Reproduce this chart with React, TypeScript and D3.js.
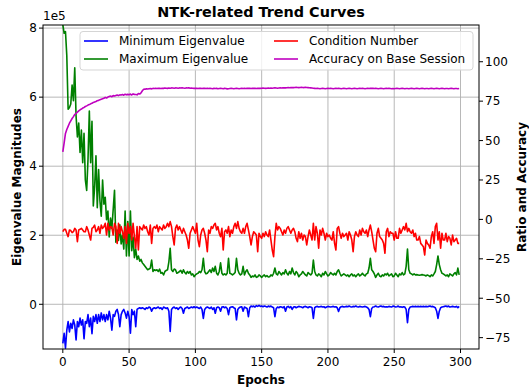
import * as d3 from "d3";

// epoch index of every sample
const epochs = d3.range(300);

// minimum eigenvalue, in units of 1e5
const minEig = [
  -1.13, -0.84, -1.27, -0.75, -0.5, -0.8, -0.55, -0.7, -0.45, -0.6,
  -1.03, -0.5, -0.65, -0.4, -0.6, -0.45, -1.0, -0.5, -0.55, -0.3,
  -0.65, -0.4, -0.85, -0.35, -0.5, -0.3, -0.55, -0.3, -0.5, -0.25,
  -0.45, -0.3, -0.5, -0.3, -0.45, -0.2, -0.4, -0.75, -0.3, -0.35,
  -0.2, -0.15, -0.3, -0.65, -0.3, -0.2, -0.15, -0.25, -0.4, -0.2,
  -0.36, -0.84, -0.15, -0.3, -0.2, -0.65, -0.15, -0.12, -0.1, -0.12,
  -0.1, -0.12, -0.15, -0.1, -0.12, -0.08, -0.1, -0.2, -0.12, -0.1,
  -0.12, -0.1, -0.08, -0.12, -0.1, -0.15, -0.08, -0.1, -0.12, -0.1,
  -0.2, -0.79, -0.15, -0.1, -0.08, -0.12, -0.1, -0.15, -0.1, -0.08,
  -0.12, -0.26, -0.12, -0.1, -0.08, -0.12, -0.1, -0.08, -0.1, -0.07,
  -0.1, -0.08, -0.1, -0.12, -0.08, -0.15, -0.41, -0.15, -0.1, -0.08,
  -0.1, -0.12, -0.08, -0.15, -0.1, -0.26, -0.1, -0.08, -0.1, -0.2,
  -0.08, -0.07, -0.1, -0.08, -0.12, -0.3, -0.1, -0.08, -0.07, -0.1,
  -0.12, -0.45, -0.15, -0.1, -0.08, -0.07, -0.2, -0.08, -0.1, -0.12,
  -0.36, -0.1, -0.05, -0.07, -0.05, -0.08, -0.04, -0.06, -0.03, -0.06,
  -0.05, -0.07, -0.05, -0.06, -0.08, -0.05, -0.07, -0.05, -0.08, -0.1,
  -0.36, -0.12, -0.08, -0.1, -0.07, -0.08, -0.1, -0.07, -0.2, -0.08,
  -0.06, -0.1, -0.07, -0.15, -0.08, -0.07, -0.1, -0.08, -0.06, -0.07,
  -0.08, -0.1, -0.07, -0.06, -0.08, -0.1, -0.07, -0.08, -0.1, -0.41,
  -0.1, -0.07, -0.06, -0.08, -0.07, -0.06, -0.08, -0.07, -0.1, -0.08,
  -0.06, -0.07, -0.08, -0.07, -0.06, -0.08, -0.07, -0.1, -0.21, -0.1,
  -0.07, -0.06, -0.08, -0.07, -0.06, -0.07, -0.05, -0.07, -0.08, -0.06,
  -0.07, -0.05, -0.07, -0.08, -0.06, -0.07, -0.08, -0.07, -0.06, -0.08,
  -0.1, -0.15, -0.36, -0.12, -0.08, -0.07, -0.05, -0.07, -0.08, -0.06,
  -0.05, -0.07, -0.06, -0.08, -0.07, -0.08, -0.06, -0.07, -0.08, -0.05,
  -0.06, -0.08, -0.07, -0.05, -0.08, -0.07, -0.09, -0.07, -0.08, -0.15,
  -0.53, -0.15, -0.08, -0.07, -0.06, -0.07, -0.06, -0.07, -0.06, -0.07,
  -0.06, -0.07, -0.06, -0.07, -0.06, -0.07, -0.06, -0.05, -0.07, -0.06,
  -0.08, -0.1, -0.2, -0.41, -0.2, -0.1, -0.08, -0.07, -0.06, -0.05,
  -0.07, -0.05, -0.08, -0.07, -0.06, -0.07, -0.08, -0.06, -0.1, -0.06,
];

// maximum eigenvalue, in units of 1e5
const maxEig = [
  8.1, 7.85, 7.9, 7.2, 5.65, 5.7, 5.8, 6.35, 5.9, 6.85,
  5.45, 4.85, 5.25, 4.4, 5.05, 4.1, 4.95, 3.6, 3.3, 4.2,
  5.6, 4.1, 5.3, 2.85, 3.4, 4.3, 2.8, 3.9, 3.0, 2.55,
  3.6, 2.9, 3.1, 2.45, 2.7, 1.95, 2.5, 2.2, 2.75, 3.3,
  1.8, 2.15, 1.85, 2.3, 1.75, 2.0, 1.6, 2.7, 1.4, 2.4,
  1.4, 2.7, 1.55, 1.95, 1.35, 1.6, 1.3, 1.4, 1.25, 1.3,
  1.2, 1.15, 1.1, 1.05, 1.0, 1.02, 1.05, 1.28, 0.95, 1.0,
  0.98, 1.0, 0.95, 1.02, 0.9, 0.92, 0.85, 0.95, 0.98, 1.0,
  1.23, 1.62, 1.0, 0.95, 1.02, 1.0, 0.9, 0.92, 0.95, 0.98,
  0.9, 1.0, 0.92, 0.88, 0.95, 0.9, 0.95, 0.85, 0.88, 0.8,
  0.85, 0.88, 0.9, 0.95, 0.92, 1.0, 1.33, 0.95, 0.88, 0.9,
  0.95, 1.0, 0.92, 1.05, 0.95, 1.1, 0.9, 0.85, 0.95, 1.2,
  0.9, 0.85, 0.88, 0.85, 0.9, 1.33, 0.9, 0.88, 0.85, 0.88,
  0.92, 1.33, 1.0, 0.9, 0.85, 0.88, 1.1, 0.85, 0.95, 1.0,
  0.9, 0.85, 0.78, 0.82, 0.8, 0.85, 0.78, 0.8, 0.85, 0.82,
  0.78, 0.82, 0.85, 0.8, 0.83, 0.79, 0.8, 0.85, 0.82, 0.9,
  1.05, 0.88, 0.85, 0.95, 0.9, 0.85, 0.92, 0.88, 1.0, 0.9,
  0.85, 0.95, 0.88, 1.05, 0.92, 0.85, 0.95, 0.9, 0.8, 0.85,
  0.88, 0.95, 0.9, 0.85, 0.82, 0.92, 0.88, 0.85, 0.9, 1.28,
  0.95, 0.85, 0.82, 0.88, 0.85, 0.8, 0.9, 0.85, 0.95, 0.88,
  0.82, 0.85, 0.92, 0.88, 0.85, 0.9, 0.85, 0.95, 1.0, 0.9,
  0.82, 0.85, 0.88, 0.85, 0.82, 0.85, 0.8, 0.85, 0.88, 0.82,
  0.85, 0.8, 0.85, 0.88, 0.82, 0.85, 0.9, 0.85, 0.82, 0.88,
  0.9, 1.05, 1.33, 1.0, 0.95, 0.88, 0.78, 0.85, 0.9, 0.82,
  0.8, 0.85, 0.82, 0.88, 0.85, 0.9, 0.82, 0.85, 0.88, 0.8,
  0.82, 0.9, 0.85, 0.8, 0.88, 0.85, 0.92, 0.85, 0.88, 1.1,
  1.6, 1.0, 0.9, 0.88, 0.85, 0.88, 0.85, 0.86, 0.85, 0.84,
  0.85, 0.86, 0.85, 0.84, 0.82, 0.85, 0.83, 0.8, 0.85, 0.82,
  0.88, 0.95, 1.15, 1.4, 1.15, 1.0, 0.9, 0.88, 0.85, 0.82,
  0.85, 0.8, 0.88, 0.85, 0.82, 0.88, 0.92, 0.85, 1.05, 0.85,
];

// condition number (right axis)
const condNum = [
  -7.8, -6.3, -6.3, -8.8, -10.9, -6.7, -7.1, -8.4, -7.8, -5.7,
  -6.7, -14.1, -6.7, -6.3, -5.7, -6.7, -7.8, -7.8, -4.6, -6.7,
  -9.9, -13.1, -5.7, -5.0, -3.6, -7.8, -6.7, -4.6, -8.8, -3.6,
  -5.7, -4.6, -2.5, -9.9, -2.5, -6.7, -4.6, -5.0, -9.9, -2.5,
  -4.6, -15.2, -2.5, -8.8, -4.6, -7.8, -12.0, -4.6, -15.2, -2.5,
  -8.8, -4.6, -13.1, -2.5, -10.9, -18.3, -4.6, -19.4, -4.6, -5.7,
  -6.7, -3.6, -5.7, -4.6, -7.8, -9.9, -3.6, -15.2, -5.7, -4.6,
  -5.7, -3.6, -7.8, -4.6, -5.7, -6.7, -3.6, -5.7, -4.6, -2.5,
  -4.6, -1.4, -4.6, -10.9, -16.2, -5.7, -3.6, -6.7, -4.6, -6.7,
  -8.8, -5.7, -7.8, -9.9, -13.1, -18.3, -8.8, -6.7, -4.6, -6.7,
  -8.8, -2.5, -13.1, -17.3, -9.9, -6.7, -5.7, -8.8, -13.1, -20.5,
  -6.7, -8.8, -4.6, -5.7, -3.6, -2.5, -6.7, -4.6, -8.8, -10.9,
  -5.7, -19.4, -7.8, -6.7, -8.8, -4.6, -10.9, -6.7, -8.8, -4.6,
  -2.5, -5.7, -1.4, -5.7, -7.8, -8.8, -5.7, -8.8, -4.6, -2.5,
  -6.7, -10.9, -16.2, -10.9, -7.8, -8.8, -9.9, -20.5, -8.8, -10.9,
  -12.0, -8.8, -10.9, -7.8, -9.9, -10.9, -6.7, -13.1, -19.4, -23.6,
  -10.9, -2.5, -6.7, -4.6, -5.7, -7.8, -9.9, -6.7, -8.8, -5.7,
  -4.6, -6.7, -8.8, -6.7, -5.7, -7.8, -12.0, -14.1, -7.8, -12.0,
  -8.8, -13.1, -9.9, -10.9, -16.2, -10.9, -6.7, -9.9, -13.1, -2.5,
  -13.1, -4.6, -8.8, -18.3, -6.7, -9.9, -5.7, -8.8, -13.1, -8.8,
  -10.9, -9.9, -12.0, -13.1, -7.8, -15.2, -19.4, -5.7, -4.6, -8.8,
  -12.0, -8.8, -10.9, -9.9, -8.8, -13.1, -7.8, -9.9, -13.1, -20.5,
  -10.9, -7.8, -9.9, -10.9, -6.7, -9.9, -5.7, -7.8, -8.8, -6.7,
  -10.9, -6.7, -3.6, -7.8, -13.1, -18.3, -20.5, -8.8, -5.7, -10.9,
  -12.0, -13.1, -15.2, -21.5, -7.8, -5.7, -10.9, -7.8, -8.8, -8.8,
  -13.1, -7.8, -12.0, -12.0, -5.7, -8.8, -6.7, -4.6, -6.7, -2.5,
  -7.8, -5.7, -7.8, -8.8, -6.7, -10.9, -8.8, -13.1, -13.1, -10.9,
  -15.2, -16.2, -17.3, -22.6, -13.1, -15.2, -16.2, -18.3, -10.9, -7.8,
  -15.2, -4.6, -2.5, -13.1, -7.8, -18.3, -8.8, -13.1, -13.1, -8.8,
  -14.1, -10.9, -12.0, -16.2, -9.9, -14.1, -13.1, -12.0, -15.2, -15.2,
];

// accuracy on base session (right axis)
const accuracy = [
  42.9, 48.5, 54.5, 57.0, 59.0, 61.0, 62.5, 64.0, 65.2, 66.5,
  67.3, 68.0, 68.8, 69.5, 70.0, 70.6, 71.0, 71.6, 72.0, 72.5,
  72.8, 73.3, 73.6, 74.2, 74.5, 74.8, 75.3, 75.5, 75.9, 76.2,
  76.5, 76.8, 77.4, 77.0, 77.6, 77.9, 78.2, 77.8, 78.5, 78.3,
  78.6, 78.9, 78.5, 79.0, 78.9, 79.2, 78.8, 79.4, 79.0, 79.3,
  79.1, 79.5, 78.9, 79.6, 79.3, 79.2, 79.0, 79.8, 79.5, 80.2,
  81.6, 82.5, 82.6, 82.8, 82.7, 82.9, 83.0, 82.8, 83.1, 83.0,
  83.1, 83.0, 83.2, 83.1, 83.0, 83.2, 83.1, 83.3, 83.2, 83.1,
  83.3, 83.2, 83.4, 83.3, 83.2, 83.4, 83.3, 83.2, 83.4, 83.3,
  83.5, 83.3, 83.2, 83.4, 83.3, 83.5, 83.2, 83.3, 83.2, 83.1,
  83.2, 83.1, 83.0, 83.2, 83.1, 83.0, 83.1, 83.2, 83.0, 83.1,
  83.0, 83.1, 83.0, 82.9, 83.1, 83.0, 83.1, 82.9, 83.0, 83.1,
  83.0, 82.9, 83.1, 83.0, 82.8, 82.9, 83.0, 83.1, 83.0, 82.9,
  83.0, 83.1, 83.0, 82.9, 83.0, 83.1, 83.0, 83.1, 83.0, 83.1,
  83.2, 83.1, 83.0, 83.1, 83.2, 83.1, 83.0, 83.1, 83.2, 83.1,
  83.2, 83.3, 83.2, 83.1, 83.2, 83.3, 83.2, 83.3, 83.2, 83.3,
  83.4, 83.3, 83.2, 83.3, 83.4, 83.3, 83.4, 83.5, 83.4, 83.5,
  83.6, 83.5, 83.6, 83.7, 83.6, 83.7, 83.8, 83.7, 83.6, 83.7,
  83.8, 83.7, 83.6, 83.8, 83.7, 83.6, 83.5, 83.4, 83.3, 83.2,
  83.1, 83.0, 83.1, 83.0, 82.9, 83.0, 83.1, 83.0, 82.9, 83.0,
  83.1, 83.0, 83.1, 83.0, 82.9, 83.0, 83.1, 83.0, 83.1, 83.0,
  82.9, 83.0, 83.1, 83.0, 82.9, 83.0, 83.1, 83.0, 82.9, 83.0,
  83.1, 83.0, 82.9, 83.0, 83.1, 83.0, 83.1, 83.0, 82.9, 83.0,
  83.1, 83.0, 83.1, 83.2, 83.1, 83.0, 83.1, 83.0, 82.9, 83.0,
  83.1, 83.0, 82.9, 83.0, 83.1, 83.0, 83.1, 83.0, 82.9, 83.0,
  82.9, 83.0, 83.1, 83.0, 82.9, 83.0, 83.1, 83.0, 82.9, 83.0,
  83.0, 82.9, 83.0, 83.1, 83.0, 82.9, 83.0, 83.1, 83.0, 82.9,
  83.0, 83.1, 83.0, 82.9, 83.0, 83.0, 82.9, 83.0, 83.1, 83.0,
  82.9, 83.0, 83.1, 83.0, 82.9, 83.0, 83.1, 83.0, 82.9, 83.0,
  83.0, 82.9, 83.0, 83.1, 83.0, 82.9, 83.0, 83.0, 82.9, 83.0,
];

const xTicks = [0, 50, 100, 150, 200, 250, 300];
const leftTicks = [0, 2, 4, 6, 8];
const rightTicks = [-75, -50, -25, 0, 25, 50, 75, 100];

const legendItems = [
  { label: "Minimum Eigenvalue", color: "#0000ff" },
  { label: "Maximum Eigenvalue", color: "#008000" },
  { label: "Condition Number", color: "#ff0000" },
  { label: "Accuracy on Base Session", color: "#bf00bf" },
];

const W = 529;
const H = 387;
const plot = { left: 43, right: 479, top: 25, bottom: 349 };
const FONT = "DejaVu Sans, Liberation Sans, sans-serif";
const FS = 12;

export default function App() {
  const x = d3.scaleLinear().domain([-14.95, 313.95]).range([plot.left, plot.right]);
  const yL = d3.scaleLinear().domain([-1.295, 8.09]).range([plot.bottom, plot.top]);
  const yR = d3.scaleLinear().domain([-82.2, 123.3]).range([plot.bottom, plot.top]);

  const lineL = (vals: number[]) =>
    d3.line<number>().x((_, i) => x(epochs[i])).y(v => yL(v))(vals) ?? "";
  const lineR = (vals: number[]) =>
    d3.line<number>().x((_, i) => x(epochs[i])).y(v => yR(v))(vals) ?? "";

  const fmt = (v: number) => (v < 0 ? "\u2212" + Math.abs(v) : String(v));
  const midY = (plot.top + plot.bottom) / 2;
  const midX = (plot.left + plot.right) / 2;

  return (
    <svg
      width={W}
      height={H}
      style={{ position: "absolute", left: 0, top: 0, background: "#fff" }}
      fontFamily={FONT}
    >
      <defs>
        <clipPath id="plotClip">
          <rect x={plot.left} y={plot.top} width={plot.right - plot.left} height={plot.bottom - plot.top} />
        </clipPath>
      </defs>

      {/* grid */}
      <g stroke="#b0b0b0" strokeWidth={0.9}>
        {xTicks.map(t => (
          <line key={"gx" + t} x1={x(t)} x2={x(t)} y1={plot.top} y2={plot.bottom} />
        ))}
        {leftTicks.map(t => (
          <line key={"gy" + t} x1={plot.left} x2={plot.right} y1={yL(t)} y2={yL(t)} />
        ))}
      </g>

      {/* series */}
      <g clipPath="url(#plotClip)" fill="none" strokeWidth={1.6} strokeLinejoin="round">
        <path d={lineL(minEig)} stroke="#0000ff" />
        <path d={lineL(maxEig)} stroke="#008000" />
        <path d={lineR(condNum)} stroke="#ff0000" />
        <path d={lineR(accuracy)} stroke="#bf00bf" />
      </g>

      {/* frame */}
      <rect
        x={plot.left}
        y={plot.top}
        width={plot.right - plot.left}
        height={plot.bottom - plot.top}
        fill="none"
        stroke="#000"
        strokeWidth={1}
      />

      {/* x axis */}
      <g fontSize={FS} fill="#000">
        {xTicks.map(t => (
          <g key={"xt" + t}>
            <line x1={x(t)} x2={x(t)} y1={plot.bottom} y2={plot.bottom + 4} stroke="#000" />
            <text x={x(t)} y={plot.bottom + 17} textAnchor="middle">{t}</text>
          </g>
        ))}
      </g>

      {/* left axis */}
      <g fontSize={FS} fill="#000">
        {leftTicks.map(t => (
          <g key={"yl" + t}>
            <line x1={plot.left - 4} x2={plot.left} y1={yL(t)} y2={yL(t)} stroke="#000" />
            <text x={plot.left - 6} y={yL(t) + 4.3} textAnchor="end">{t}</text>
          </g>
        ))}
        <text x={plot.left} y={20}>1e5</text>
      </g>

      {/* right axis */}
      <g fontSize={FS} fill="#000">
        {rightTicks.map(t => (
          <g key={"yr" + t}>
            <line x1={plot.right} x2={plot.right + 4} y1={yR(t)} y2={yR(t)} stroke="#000" />
            <text x={plot.right + 6} y={yR(t) + 4.3}>{fmt(t)}</text>
          </g>
        ))}
      </g>

      {/* labels */}
      <text x={midX} y={17} textAnchor="middle" fontSize={14.4} fontWeight="bold">
        NTK-related Trend Curves
      </text>
      <text x={midX} y={384} textAnchor="middle" fontSize={FS} fontWeight="bold">
        Epochs
      </text>
      <text
        transform={`translate(21,${midY}) rotate(-90)`}
        textAnchor="middle"
        fontSize={FS}
        fontWeight="bold"
      >
        Eigenvalue Magnitudes
      </text>
      <text
        transform={`translate(525.5,${midY}) rotate(-90)`}
        textAnchor="middle"
        fontSize={FS}
        fontWeight="bold"
      >
        Ratio and Accuracy
      </text>

      {/* legend */}
      <g>
        <rect x={80} y={31.5} width={393} height={38.5} rx={3} fill="#fff" fillOpacity={0.8} stroke="#d5d5d5" />
        {legendItems.map((d, i) => {
          const col = Math.floor(i / 2);
          const row = i % 2;
          const hx = col === 0 ? 84 : 274;
          const cy = 41 + row * 18;
          return (
            <g key={d.label}>
              <line x1={hx} x2={hx + 24} y1={cy} y2={cy} stroke={d.color} strokeWidth={1.6} />
              <text x={hx + 35} y={cy + 4.3} fontSize={FS}>{d.label}</text>
            </g>
          );
        })}
      </g>
    </svg>
  );
}
